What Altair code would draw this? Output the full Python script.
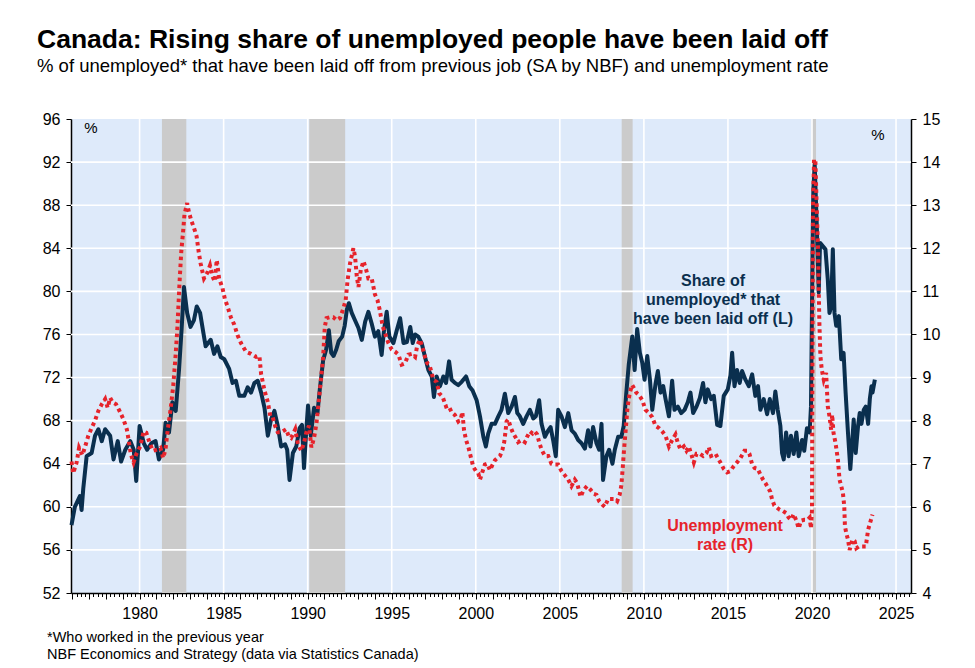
import altair as alt
import pandas as pd

# ---------------- data ----------------
# Share of unemployed* that have been laid off (left axis, %)
laid_year = [1975.95, 1976.15, 1976.45, 1976.55, 1976.65, 1976.85, 1977.15, 1977.35, 1977.55, 1977.75,
             1977.95, 1978.25, 1978.45, 1978.7, 1978.9, 1979.15, 1979.45, 1979.65, 1979.8, 1980.0,
             1980.25, 1980.45, 1980.7, 1980.95, 1981.15, 1981.4, 1981.55, 1981.75, 1981.95, 1982.15,
             1982.35, 1982.5, 1982.64, 1982.83, 1983.03, 1983.23, 1983.4, 1983.6, 1983.8, 1983.93,
             1984.23, 1984.43, 1984.63, 1984.83, 1985.04, 1985.33, 1985.53, 1985.73, 1985.93, 1986.23,
             1986.43, 1986.63, 1986.83, 1987.03, 1987.23, 1987.43, 1987.63, 1987.82, 1988.02, 1988.22,
             1988.42, 1988.66, 1988.78, 1988.92, 1989.12, 1989.32, 1989.52, 1989.66, 1989.78, 1989.92,
             1990.02, 1990.18, 1990.38, 1990.58, 1990.72, 1990.92, 1991.1, 1991.26, 1991.4, 1991.54,
             1991.7, 1991.85, 1992.05, 1992.2, 1992.33, 1992.45, 1992.62, 1992.82, 1993.02, 1993.22,
             1993.42, 1993.61, 1993.81, 1994.0, 1994.2, 1994.4, 1994.54, 1994.7, 1994.86, 1995.1,
             1995.3, 1995.5, 1995.7, 1995.9, 1996.1, 1996.25, 1996.39, 1996.58, 1996.78, 1996.98,
             1997.18, 1997.38, 1997.51, 1997.67, 1997.87, 1998.07, 1998.23, 1998.41, 1998.56, 1998.76,
             1998.96, 1999.16, 1999.42, 1999.61, 1999.81, 2000.05, 2000.25, 2000.45, 2000.6, 2000.74,
             2000.94, 2001.14, 2001.34, 2001.53, 2001.73, 2001.93, 2002.13, 2002.33, 2002.47, 2002.62,
             2002.82, 2003.02, 2003.22, 2003.42, 2003.57, 2003.77, 2003.91, 2004.11, 2004.31, 2004.45,
             2004.6, 2004.76, 2004.9, 2005.1, 2005.3, 2005.5, 2005.7, 2005.89, 2006.09, 2006.29,
             2006.49, 2006.68, 2006.82, 2006.98, 2007.18, 2007.34, 2007.48, 2007.57, 2007.77, 2007.93,
             2008.13, 2008.27, 2008.47, 2008.66, 2008.8, 2008.95, 2009.1, 2009.31, 2009.45, 2009.6,
             2009.76, 2009.9, 2010.04, 2010.2, 2010.36, 2010.5, 2010.69, 2010.83, 2010.99, 2011.15,
             2011.29, 2011.49, 2011.68, 2011.82, 2012.02, 2012.22, 2012.42, 2012.61, 2012.77, 2012.93,
             2013.13, 2013.33, 2013.52, 2013.66, 2013.8, 2014.0, 2014.16, 2014.36, 2014.55, 2014.75,
             2014.99, 2015.15, 2015.25, 2015.39, 2015.54, 2015.7, 2015.84, 2016.04, 2016.24, 2016.44,
             2016.63, 2016.79, 2016.93, 2017.13, 2017.33, 2017.49, 2017.68, 2017.82, 2017.96, 2018.12,
             2018.22, 2018.32, 2018.46, 2018.61, 2018.75, 2018.91, 2019.07, 2019.21, 2019.41, 2019.54,
             2019.7, 2019.86, 2019.94, 2020.04, 2020.08, 2020.16, 2020.28, 2020.4, 2020.48, 2020.64,
             2020.8, 2020.94, 2021.04, 2021.14, 2021.24, 2021.34, 2021.44, 2021.6, 2021.74, 2021.88,
             2022.0, 2022.14, 2022.28, 2022.4, 2022.48, 2022.6, 2022.74, 2022.84, 2022.94, 2023.08,
             2023.2, 2023.34, 2023.44, 2023.54, 2023.6, 2023.74]
laid_share = [58.3, 60.0, 61.0, 59.7, 61.7, 64.7, 65.0, 66.6, 67.2, 66.1,
              67.2, 66.6, 64.4, 66.1, 64.2, 65.3, 66.1, 65.3, 62.4, 67.5,
              65.9, 65.3, 65.9, 66.1, 64.4, 65.3, 67.8, 66.9, 69.7, 68.9,
              72.8, 76.5, 80.4, 78.0, 76.7, 77.3, 78.6, 78.0, 76.1, 74.9,
              75.5, 74.2, 74.9, 73.9, 73.7, 72.8, 71.5, 71.7, 70.3, 70.3,
              71.1, 70.6, 71.5, 71.7, 70.6, 69.2, 66.6, 68.1, 68.9, 67.5,
              65.6, 65.8, 65.3, 62.5, 65.0, 65.6, 67.3, 67.6, 63.6, 67.2,
              69.4, 66.6, 69.2, 68.7, 70.9, 73.6, 74.6, 76.4, 74.3, 74.0,
              74.6, 75.4, 75.8, 76.8, 78.3, 78.9, 78.0, 77.3, 76.6, 75.5,
              77.2, 78.1, 77.0, 75.8, 76.3, 74.1, 76.4, 78.1, 75.8, 75.2,
              76.4, 77.5, 75.2, 75.3, 76.7, 75.2, 76.0, 75.8, 75.2, 73.9,
              72.7, 72.1, 70.2, 72.1, 71.2, 72.1, 71.5, 73.5, 71.8, 71.5,
              71.3, 71.6, 72.1, 71.2, 70.8, 69.9, 68.4, 66.5, 65.6, 66.8,
              67.7, 67.7, 68.4, 69.0, 70.5, 68.7, 69.3, 70.2, 68.7, 68.4,
              67.7, 68.4, 69.0, 68.2, 68.4, 69.9, 67.7, 66.5, 67.1, 67.4,
              66.2, 64.7, 69.0, 68.4, 67.4, 68.7, 67.1, 66.8, 66.2, 65.9,
              65.4, 67.1, 65.6, 67.4, 65.9, 65.3, 67.7, 62.5, 64.7, 65.3,
              64.0, 65.3, 66.5, 66.5, 67.5, 70.5, 73.2, 75.8, 72.7, 76.5,
              74.3, 73.4, 71.8, 74.0, 71.8, 69.0, 71.4, 72.6, 70.6, 71.2,
              70.0, 68.4, 71.7, 69.0, 69.3, 68.7, 69.0, 69.7, 70.6, 68.7,
              69.3, 70.1, 71.5, 69.7, 70.9, 70.0, 70.3, 67.6, 67.5, 70.3,
              70.9, 72.2, 74.3, 71.2, 72.7, 71.5, 72.6, 71.8, 71.2, 72.3,
              70.3, 71.2, 69.0, 70.0, 68.6, 70.0, 68.7, 70.7, 69.0, 67.5,
              65.0, 64.4, 66.9, 64.7, 66.6, 64.9, 66.9, 64.7, 66.2, 65.2,
              67.3, 66.9, 69.3, 84.8, 89.5, 91.8, 86.4, 79.9, 84.5, 84.2,
              83.9, 81.1, 78.0, 78.6, 83.9, 78.0, 76.8, 77.7, 73.7, 74.3,
              70.6, 66.9, 63.5, 66.2, 68.1, 65.0, 67.5, 68.7, 67.7, 69.0,
              69.3, 67.7, 70.0, 71.2, 70.6, 71.8]

# Unemployment rate (right axis, %)
rate_year = [1975.95, 1976.05, 1976.25, 1976.4, 1976.6, 1976.8, 1976.95, 1977.15, 1977.35, 1977.55,
             1977.75, 1977.95, 1978.1, 1978.25, 1978.4, 1978.6, 1978.8, 1979.04, 1979.24, 1979.34,
             1979.48, 1979.64, 1979.8, 1980.04, 1980.24, 1980.4, 1980.6, 1980.8, 1981.04, 1981.24,
             1981.4, 1981.54, 1981.68, 1981.84, 1982.0, 1982.14, 1982.24, 1982.3, 1982.38, 1982.48,
             1982.58, 1982.67, 1982.83, 1982.93, 1983.07, 1983.23, 1983.39, 1983.53, 1983.63, 1983.83,
             1984.03, 1984.19, 1984.33, 1984.47, 1984.59, 1984.73, 1984.93, 1985.07, 1985.23, 1985.43,
             1985.63, 1985.83, 1986.03, 1986.33, 1986.63, 1986.93, 1987.13, 1987.23, 1987.43, 1987.63,
             1987.78, 1987.92, 1988.06, 1988.22, 1988.42, 1988.72, 1988.86, 1989.02, 1989.26, 1989.42,
             1989.62, 1989.78, 1989.92, 1990.08, 1990.22, 1990.38, 1990.52, 1990.66, 1990.82, 1990.92,
             1991.02, 1991.12, 1991.32, 1991.52, 1991.72, 1991.92, 1992.12, 1992.26, 1992.38, 1992.52,
             1992.72, 1992.82, 1992.92, 1993.02, 1993.16, 1993.32, 1993.48, 1993.61, 1993.81, 1994.0,
             1994.15, 1994.27, 1994.35, 1994.47, 1994.6, 1994.8, 1995.0, 1995.2, 1995.4, 1995.59,
             1995.79, 1995.99, 1996.19, 1996.39, 1996.52, 1996.68, 1996.84, 1996.98, 1997.12, 1997.24,
             1997.48, 1997.67, 1997.83, 1998.03, 1998.23, 1998.37, 1998.56, 1998.76, 1998.96, 1999.1,
             1999.2, 1999.3, 1999.42, 1999.55, 1999.69, 1999.85, 2000.01, 2000.15, 2000.25, 2000.41,
             2000.54, 2000.68, 2000.84, 2001.0, 2001.14, 2001.28, 2001.44, 2001.59, 2001.69, 2001.77,
             2001.83, 2001.93, 2002.07, 2002.23, 2002.39, 2002.52, 2002.72, 2002.92, 2003.06, 2003.22,
             2003.38, 2003.51, 2003.65, 2003.77, 2003.91, 2004.11, 2004.31, 2004.5, 2004.7, 2004.9,
             2005.1, 2005.3, 2005.5, 2005.69, 2005.89, 2006.03, 2006.23, 2006.43, 2006.62, 2006.82,
             2007.02, 2007.18, 2007.34, 2007.53, 2007.67, 2007.87, 2008.07, 2008.27, 2008.41, 2008.56,
             2008.66, 2008.74, 2008.82, 2008.9, 2009.02, 2009.15, 2009.3, 2009.42, 2009.55, 2009.7,
             2009.9, 2010.1, 2010.3, 2010.5, 2010.69, 2010.89, 2011.09, 2011.29, 2011.49, 2011.68,
             2011.88, 2012.02, 2012.18, 2012.38, 2012.53, 2012.67, 2012.81, 2012.97, 2013.13, 2013.33,
             2013.52, 2013.72, 2013.86, 2014.0, 2014.26, 2014.55, 2014.75, 2014.95, 2015.15, 2015.35,
             2015.54, 2015.74, 2015.98, 2016.14, 2016.28, 2016.44, 2016.59, 2016.77, 2016.93, 2017.09,
             2017.23, 2017.37, 2017.52, 2017.62, 2017.76, 2017.92, 2018.08, 2018.28, 2018.48, 2018.61,
             2018.75, 2018.91, 2019.07, 2019.21, 2019.35, 2019.54, 2019.74, 2019.86, 2019.94, 2020.0,
             2020.03, 2020.06, 2020.12, 2020.2, 2020.28, 2020.36, 2020.4, 2020.44, 2020.5, 2020.58,
             2020.7, 2020.84, 2020.94, 2021.04, 2021.14, 2021.2, 2021.28, 2021.4, 2021.54, 2021.64,
             2021.74, 2021.84, 2021.92, 2021.96, 2022.04, 2022.14, 2022.24, 2022.4, 2022.54, 2022.64,
             2022.8, 2022.9, 2023.2, 2023.34, 2023.48, 2023.6]
rate_value = [7.05, 6.78, 7.02, 7.37, 7.2, 7.45, 7.65, 7.83, 8.0, 8.23,
              8.38, 8.5, 8.3, 8.53, 8.42, 8.38, 8.23, 8.03, 7.8, 7.57,
              7.22, 7.03, 7.22, 7.4, 7.75, 7.72, 7.48, 7.3, 7.33, 7.37,
              7.13, 7.33, 7.8, 8.25, 8.8, 9.5, 10.1, 10.57, 11.23, 11.92,
              12.35, 12.78, 13.05, 12.85, 12.65, 12.48, 12.28, 11.88, 11.65, 11.3,
              11.43, 11.6, 11.35, 11.23, 11.73, 11.3, 11.08, 10.83, 10.65, 10.4,
              10.23, 9.98, 9.8, 9.6, 9.55, 9.48, 9.5, 9.08, 8.7, 8.43,
              8.1, 8.08, 7.88, 7.73, 7.73, 7.8, 7.65, 7.6, 7.8, 7.45,
              7.3, 7.48, 7.73, 7.88, 7.38, 7.6, 7.93, 8.45, 9.08, 9.48,
              10.18, 10.38, 10.4, 10.4, 10.33, 10.38, 10.6, 10.8, 11.28, 11.65,
              12.0, 11.8, 11.35, 11.1, 11.5, 11.7, 11.5, 11.3, 11.3, 10.93,
              10.8, 10.6, 10.43, 10.18, 10.03, 9.8, 9.65, 9.6, 9.53, 9.3,
              9.33, 9.53, 9.55, 9.48, 9.75, 9.88, 9.68, 9.48, 9.33, 9.3,
              8.95, 8.9, 8.63, 8.55, 8.33, 8.35, 8.2, 8.13, 7.98, 8.03,
              8.2, 7.78, 7.55, 7.4, 7.18, 6.93, 6.83, 6.78, 6.63, 6.83,
              6.98, 7.0, 6.85, 6.98, 7.08, 7.13, 7.18, 7.33, 7.5, 7.75,
              7.98, 8.03, 7.85, 7.7, 7.6, 7.5, 7.55, 7.5, 7.63, 7.75,
              7.7, 7.75, 7.68, 7.5, 7.33, 7.18, 7.18, 7.0, 6.98, 6.98,
              6.83, 6.73, 6.63, 6.48, 6.63, 6.55, 6.23, 6.4, 6.48, 6.4,
              6.3, 6.28, 6.13, 6.05, 6.0, 6.18, 6.18, 6.18, 6.13, 6.28,
              6.5, 6.9, 7.33, 7.7, 8.28, 8.63, 8.83, 8.75, 8.65, 8.6,
              8.48, 8.25, 8.18, 8.08, 7.88, 7.83, 7.75, 7.65, 7.4, 7.55,
              7.68, 7.48, 7.33, 7.4, 7.3, 7.4, 7.23, 7.03, 7.23, 7.23,
              7.18, 7.25, 7.38, 7.18, 7.23, 7.03, 6.88, 6.8, 6.83, 6.95,
              7.03, 7.13, 7.3, 7.3, 7.23, 6.98, 6.9, 6.88, 6.75, 6.63,
              6.55, 6.45, 6.35, 6.18, 6.03, 5.98, 5.93, 5.9, 5.85, 5.75,
              5.7, 5.83, 5.68, 5.5, 5.68, 5.7, 5.7, 5.75, 5.5, 5.93,
              9.9, 12.98, 14.06, 14.06, 12.98, 11.97, 11.04, 10.27, 9.5, 9.19,
              8.95, 9.11, 8.33, 8.1, 7.79, 8.14, 7.72, 7.48, 7.1, 6.63,
              6.48, 6.32, 6.01, 5.55, 5.39, 5.24, 5.0, 5.24, 5.2, 5.04,
              5.08, 5.08, 5.08, 5.47, 5.66, 5.82]

# Recessions (shaded)
rec_start = [1981.33, 1990.09, 2008.68, 2019.98]
rec_end = [1982.78, 1992.23, 2009.33, 2020.24]

# Axis ticks
left_ticks = [52, 56, 60, 64, 68, 72, 76, 80, 84, 88, 92, 96]
right_ticks = [4, 5, 6, 7, 8, 9, 10, 11, 12, 13, 14, 15]
year_labels = [1980, 1985, 1990, 1995, 2000, 2005, 2010, 2015, 2020, 2025]
year_ticks = list(range(1976, 2026))
quarter_ticks = [1976 + q / 4 for q in range(0, 4 * 50) if q % 4 != 0]

# ---------------- styling ----------------
NAVY = "#0A2F4E"
RED = "#E6232B"
BG = "#DEEAFA"
BAND = "#CBCBCB"
FONT = "Liberation Sans"
W, H = 840, 474

x_scale = alt.Scale(domain=[1975.92, 2025.89], nice=False, zero=False)
yl_scale = alt.Scale(domain=[52, 96], nice=False, zero=False)
yr_scale = alt.Scale(domain=[4, 15], nice=False, zero=False)

laid_df = pd.DataFrame({"year": laid_year, "share": laid_share})
rate_df = pd.DataFrame({"year": rate_year, "rate": rate_value})
rec_df = pd.DataFrame({"s": rec_start, "e": rec_end})
hgrid_df = pd.DataFrame({"v": left_ticks[1:-1]})
vgrid_df = pd.DataFrame({"yr": year_labels})
one = pd.DataFrame({"k": [0]})

bands = alt.Chart(rec_df).mark_rect(color=BAND).encode(
    x=alt.X("s:Q", scale=x_scale, axis=None),
    x2="e:Q",
)

vgrid = alt.Chart(vgrid_df).mark_rule(color="white", strokeWidth=1.6).encode(
    x=alt.X("yr:Q", scale=x_scale, axis=None),
)

hgrid = alt.Chart(hgrid_df).mark_rule(color="white", strokeWidth=1.6).encode(
    y=alt.Y("v:Q", scale=yl_scale, axis=None),
)

axis_common = dict(
    tickColor="black",
    tickWidth=1,
    domainColor="black",
    domainWidth=1.5,
    grid=False,
    labelFontSize=16,
    labelFont=FONT,
    labelColor="black",
    title=None,
)

laid_line = alt.Chart(laid_df).mark_line(color=NAVY, strokeWidth=4, strokeJoin="round").encode(
    x=alt.X(
        "year:Q",
        scale=x_scale,
        axis=alt.Axis(
            orient="bottom",
            values=year_ticks,
            labelExpr="datum.value % 5 == 0 ? toString(datum.value) : ''",
            tickSize=6,
            labelPadding=6,
            labelAngle=0,
            labelOverlap=False,
            labelFlush=False,
            **axis_common,
        ),
    ),
    y=alt.Y(
        "share:Q",
        scale=yl_scale,
        axis=alt.Axis(orient="left", values=left_ticks, tickSize=5, labelPadding=6, **axis_common),
    ),
)

rate_line = alt.Chart(rate_df).mark_line(
    color=RED, strokeWidth=4, strokeDash=[3.5, 3.5], strokeCap="butt"
).encode(
    x=alt.X(
        "year:Q",
        scale=x_scale,
        axis=alt.Axis(
            orient="bottom",
            values=quarter_ticks,
            labels=False,
            domain=False,
            tickSize=3.5,
            tickColor="black",
            tickWidth=1,
            grid=False,
            title=None,
        ),
    ),
    y=alt.Y(
        "rate:Q",
        scale=yr_scale,
        axis=alt.Axis(orient="right", values=right_ticks, tickSize=5, labelPadding=6, **axis_common),
    ),
)


def label(text, x, y, size, weight="normal", color="black", align="left", line_height=None):
    kw = dict(font=FONT, fontSize=size, fontWeight=weight, color=color, align=align,
              baseline="alphabetic")
    if line_height is not None:
        kw["lineHeight"] = line_height
    return alt.Chart(one).mark_text(**kw).encode(
        x=alt.value(x), y=alt.value(y), text=alt.value(text)
    )


title = label("Canada: Rising share of unemployed people have been laid off", -34, -70.7, 26.5, "bold")
subtitle = label("% of unemployed* that have been laid off from previous job (SA by NBF) and unemployment rate",
                 -34, -47.3, 18.5)
note1 = label("*Who worked in the previous year", -24, 522.7, 14.5)
note2 = label("NBF Economics and Strategy (data via Statistics Canada)", -24, 540.3, 14.5)
pct_left = label("%", 20, 14, 15, align="center")
pct_right = label("%", 807, 20.5, 15, align="center")
ann_laid = label(["Share of", "unemployed* that", "have been laid off (L)"], 642, 166.7, 16, "bold",
                 NAVY, "center", 19)
ann_rate = label(["Unemployment", "rate (R)"], 654, 411.7, 16, "bold", RED, "center", 19)

chart = (
    alt.layer(bands, vgrid, hgrid, laid_line, rate_line,
              title, subtitle, note1, note2, pct_left, pct_right, ann_laid, ann_rate)
    .resolve_scale(y="independent")
    .resolve_axis(x="independent")
    .properties(
        width=W,
        height=H,
        autosize=alt.AutoSizeParams(type="none"),
        padding={"left": 63, "top": 111, "right": 56, "bottom": 70},
        background="white",
    )
    .configure_view(fill=BG, stroke=None)
)

chart.save("out.html", embed_options={"renderer": "svg", "actions": False})
